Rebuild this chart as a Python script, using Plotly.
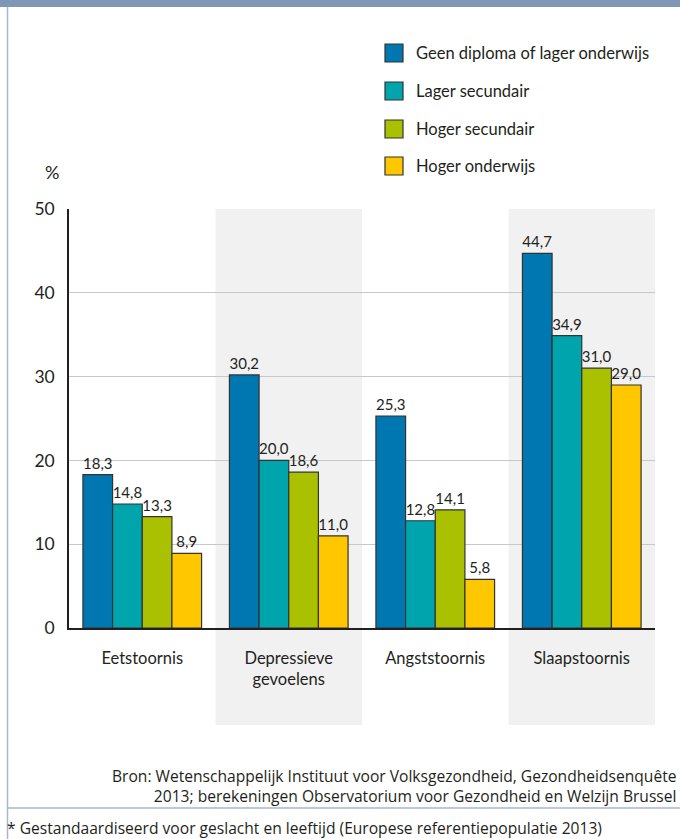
import plotly.graph_objects as go

categories = ["Eetstoornis", "Depressieve<br>gevoelens", "Angststoornis", "Slaapstoornis"]
series_names = ["Geen diploma of lager onderwijs", "Lager secundair", "Hoger secundair", "Hoger onderwijs"]
geen_diploma = [18.3, 30.2, 25.3, 44.7]
lager_secundair = [14.8, 20.0, 12.8, 34.9]
hoger_secundair = [13.3, 18.6, 14.1, 31.0]
hoger_onderwijs = [8.9, 11.0, 5.8, 29.0]
series_values = [geen_diploma, lager_secundair, hoger_secundair, hoger_onderwijs]
colors = ["#0077b0", "#00a4ad", "#a9c100", "#ffc700"]
y_ticks = [0, 10, 20, 30, 40, 50]

FONT = "Lato, sans-serif"
FONT2 = "Open Sans, sans-serif"
TXT = "#231f20"

fig = go.Figure()
for name, vals, col in zip(series_names, series_values, colors):
    fig.add_trace(go.Bar(
        x=categories, y=vals, name=name,
        marker=dict(color=col, line=dict(color="#333333", width=1.2)),
        text=[f"{v:.1f}".replace(".", ",") for v in vals],
        textposition="outside", cliponaxis=False, constraintext="none",
        textfont=dict(family=FONT, size=15, color=TXT),
        showlegend=False,
    ))

W, H = 680, 839
ml, mr, mt, mb = 69, 25, 209, 211
pw = W - ml - mr
ph = H - mt - mb


def px_x(x):
    return (x - ml) / pw


def px_y(y):
    return (H - mb - y) / ph


shapes = []
for c in [1, 3]:
    shapes.append(dict(type="rect", xref="x", yref="paper", x0=c - 0.5, x1=c + 0.5,
                       y0=px_y(725), y1=1, fillcolor="#f1f1f1", line=dict(width=0), layer="below"))
shapes.append(dict(type="rect", xref="paper", yref="paper",
                   x0=px_x(0), x1=px_x(W), y0=px_y(7), y1=px_y(0),
                   fillcolor="#8096b6", line=dict(width=0)))
shapes.append(dict(type="line", xref="paper", yref="paper",
                   x0=px_x(7.5), x1=px_x(7.5), y0=px_y(H), y1=px_y(7),
                   line=dict(color="#a9b7cb", width=1.5)))
shapes.append(dict(type="line", xref="paper", yref="paper",
                   x0=px_x(7.5), x1=px_x(W), y0=px_y(808), y1=px_y(808),
                   line=dict(color="#a9b7cb", width=1.5)))

annotations = []
leg_y = [53, 91, 129, 166]
for name, col, yy in zip(series_names, colors, leg_y):
    shapes.append(dict(type="rect", xref="paper", yref="paper",
                       x0=px_x(385), x1=px_x(403), y0=px_y(yy + 9), y1=px_y(yy - 9),
                       fillcolor=col, line=dict(color="#333333", width=1.2)))
    annotations.append(dict(xref="paper", yref="paper", x=px_x(414), y=px_y(yy),
                            text=name, showarrow=False, xanchor="left", yanchor="middle",
                            font=dict(family=FONT, size=16.5, color=TXT)))

annotations.append(dict(xref="paper", yref="paper", x=px_x(52), y=px_y(172), text="%",
                        showarrow=False, xanchor="center", yanchor="middle",
                        font=dict(family=FONT, size=18, color=TXT)))
annotations.append(dict(xref="paper", yref="paper", x=px_x(678), y=px_y(786),
                        text="Bron: Wetenschappelijk Instituut voor Volksgezondheid, Gezondheidsenquête<br>2013; berekeningen Observatorium voor Gezondheid en Welzijn Brussel",
                        showarrow=False, xanchor="right", yanchor="middle", align="right",
                        font=dict(family=FONT2, size=15.6, color=TXT)))
annotations.append(dict(xref="paper", yref="paper", x=px_x(5), y=px_y(828),
                        text="* Gestandaardiseerd voor geslacht en leeftijd (Europese referentiepopulatie 2013)",
                        showarrow=False, xanchor="left", yanchor="middle",
                        font=dict(family=FONT2, size=15.6, color=TXT)))

fig.update_layout(
    width=W, height=H,
    margin=dict(l=ml, r=mr, t=mt, b=mb),
    paper_bgcolor="white", plot_bgcolor="rgba(0,0,0,0)",
    barmode="group", bargap=0.19, bargroupgap=0,
    shapes=shapes, annotations=annotations,
    xaxis=dict(type="category", range=[-0.5, 3.5], showgrid=False, ticks="",
               showline=True, linecolor="#231f20", linewidth=1.5,
               tickfont=dict(family=FONT, size=16.5, color=TXT), ticklabelstandoff=14),
    yaxis=dict(range=[0, 50], tickvals=y_ticks, showgrid=True, gridcolor="#c8c8c8", gridwidth=1,
               showline=True, linecolor="#231f20", linewidth=1.5, zeroline=False, ticks="",
               tickfont=dict(family=FONT, size=17.5, color=TXT), ticklabelstandoff=9),
    showlegend=False,
)

fig.write_html("out.html", config={"displayModeBar": False},
               post_script="document.body.style.margin='0';document.body.style.overflow='hidden';")
